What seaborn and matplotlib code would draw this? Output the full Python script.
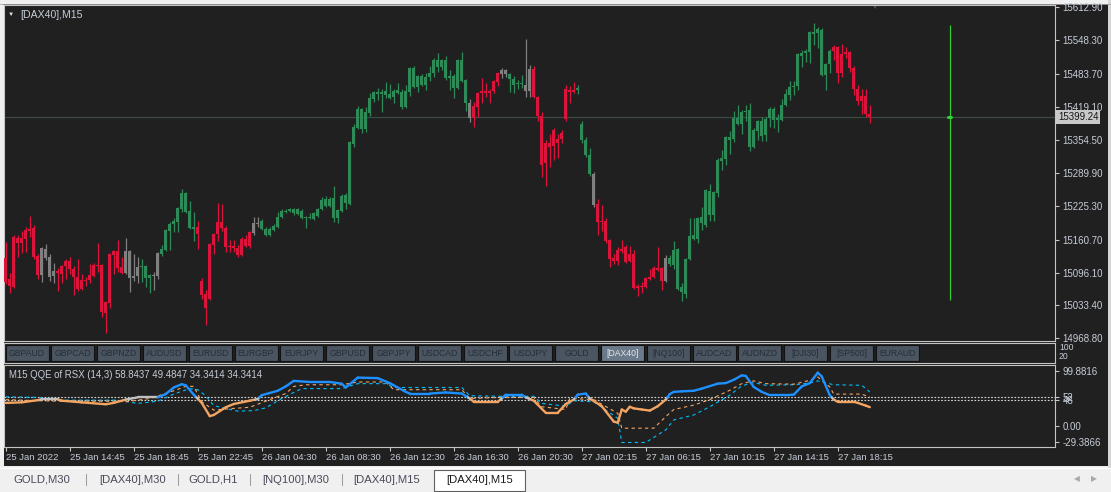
import numpy as np
import pandas as pd
import matplotlib
matplotlib.use("Agg")
import matplotlib.pyplot as plt
from matplotlib.collections import LineCollection
from matplotlib.patches import Rectangle
import seaborn as sns

W, H = 1111, 492

# --- DAX40 M15 candles (price) ---
opens = [15125, 15084, 15068, 15164, 15154, 15162, 15177, 15183, 15129, 15092,
         15142, 15127, 15090, 15100, 15094, 15109, 15119, 15103, 15088, 15065,
         15082, 15082, 15090, 15111, 15111, 15018, 15037, 15131, 15139, 15107,
         15096, 15139, 15086, 15090, 15107, 15109, 15086, 15092, 15090, 15133,
         15140, 15177, 15191, 15195, 15220, 15251, 15216, 15181, 15185, 15080,
         15055, 15045, 15150, 15172, 15195, 15183, 15146, 15148, 15144, 15131,
         15162, 15148, 15174, 15193, 15197, 15181, 15170, 15179, 15185, 15205,
         15214, 15216, 15213, 15220, 15203, 15203, 15203, 15201, 15207, 15220,
         15226, 15240, 15203, 15203, 15216, 15232, 15230, 15347, 15378, 15415,
         15376, 15407, 15434, 15444, 15448, 15442, 15444, 15438, 15446, 15448,
         15419, 15448, 15495, 15458, 15479, 15462, 15477, 15485, 15510, 15497,
         15510, 15475, 15479, 15456, 15510, 15471, 15427, 15397, 15419, 15446,
         15450, 15446, 15450, 15467, 15483, 15491, 15483, 15473, 15464, 15465,
         15462, 15450, 15493, 15438, 15401, 15310, 15349, 15343, 15357, 15357,
         15395, 15452, 15448, 15452, 15386, 15355, 15325, 15288, 15230, 15195,
         15197, 15160, 15125, 15119, 15139, 15146, 15119, 15133, 15067, 15070,
         15068, 15084, 15088, 15105, 15105, 15080, 15113, 15111, 15142, 15059,
         15055, 15123, 15162, 15162, 15193, 15189, 15255, 15209, 15251, 15314,
         15318, 15361, 15357, 15397, 15386, 15409, 15413, 15341, 15372, 15392,
         15364, 15397, 15415, 15393, 15393, 15423, 15442, 15458, 15460, 15518,
         15524, 15526, 15565, 15563, 15569, 15481, 15502, 15528, 15536, 15485,
         15522, 15526, 15495, 15454, 15430, 15440, 15405]
highs = [15156, 15096, 15170, 15170, 15177, 15185, 15207, 15189, 15133, 15146,
         15152, 15133, 15115, 15105, 15111, 15123, 15127, 15109, 15123, 15094,
         15088, 15113, 15115, 15154, 15113, 15041, 15135, 15140, 15160, 15127,
         15164, 15140, 15133, 15127, 15123, 15111, 15094, 15098, 15137, 15150,
         15181, 15195, 15203, 15224, 15259, 15253, 15236, 15214, 15197, 15086,
         15063, 15154, 15174, 15232, 15230, 15187, 15160, 15160, 15150, 15166,
         15170, 15177, 15205, 15205, 15201, 15185, 15185, 15191, 15214, 15220,
         15220, 15222, 15222, 15222, 15220, 15207, 15213, 15214, 15222, 15244,
         15246, 15244, 15265, 15220, 15249, 15251, 15353, 15386, 15421, 15417,
         15419, 15446, 15450, 15456, 15454, 15467, 15464, 15454, 15465, 15454,
         15462, 15497, 15499, 15481, 15483, 15485, 15499, 15514, 15524, 15512,
         15518, 15491, 15483, 15512, 15526, 15473, 15434, 15429, 15448, 15475,
         15465, 15454, 15471, 15487, 15495, 15493, 15485, 15479, 15471, 15481,
         15551, 15500, 15499, 15440, 15409, 15355, 15366, 15378, 15366, 15374,
         15462, 15460, 15467, 15462, 15392, 15361, 15339, 15292, 15240, 15228,
         15203, 15162, 15133, 15146, 15160, 15150, 15148, 15140, 15074, 15078,
         15088, 15103, 15109, 15146, 15107, 15131, 15131, 15158, 15144, 15076,
         15125, 15203, 15203, 15205, 15224, 15259, 15269, 15255, 15320, 15335,
         15362, 15372, 15411, 15423, 15413, 15423, 15427, 15378, 15393, 15399,
         15399, 15419, 15419, 15405, 15434, 15454, 15469, 15469, 15524, 15530,
         15532, 15567, 15582, 15574, 15573, 15504, 15532, 15539, 15537, 15541,
         15536, 15528, 15499, 15462, 15454, 15454, 15423]
lows = [15074, 15057, 15067, 15127, 15135, 15137, 15166, 15123, 15084, 15078,
        15121, 15080, 15076, 15061, 15076, 15084, 15094, 15053, 15061, 15063,
        15070, 15076, 15088, 15098, 15010, 14979, 15028, 15094, 15098, 15094,
        15094, 15059, 15080, 15076, 15078, 15068, 15057, 15063, 15084, 15129,
        15139, 15140, 15176, 15176, 15214, 15213, 15181, 15158, 15142, 15045,
        14995, 15043, 15133, 15158, 15177, 15137, 15137, 15137, 15127, 15129,
        15146, 15144, 15170, 15185, 15179, 15168, 15168, 15177, 15183, 15203,
        15213, 15214, 15209, 15209, 15201, 15183, 15201, 15199, 15205, 15218,
        15224, 15224, 15195, 15193, 15214, 15220, 15228, 15341, 15376, 15368,
        15370, 15401, 15429, 15432, 15409, 15436, 15434, 15427, 15444, 15415,
        15417, 15440, 15456, 15448, 15460, 15452, 15469, 15477, 15487, 15491,
        15471, 15452, 15436, 15454, 15467, 15411, 15390, 15380, 15399, 15427,
        15438, 15427, 15446, 15460, 15475, 15477, 15448, 15446, 15454, 15456,
        15438, 15438, 15436, 15392, 15283, 15265, 15302, 15316, 15320, 15349,
        15392, 15427, 15446, 15444, 15349, 15322, 15285, 15224, 15170, 15177,
        15154, 15107, 15113, 15111, 15135, 15115, 15117, 15065, 15051, 15057,
        15067, 15082, 15086, 15100, 15063, 15078, 15109, 15103, 15063, 15041,
        15047, 15121, 15160, 15154, 15179, 15185, 15197, 15197, 15244, 15296,
        15306, 15327, 15351, 15384, 15366, 15392, 15333, 15339, 15355, 15353,
        15353, 15380, 15378, 15370, 15392, 15421, 15432, 15442, 15452, 15497,
        15506, 15504, 15539, 15534, 15479, 15452, 15485, 15510, 15465, 15477,
        15514, 15487, 15442, 15423, 15405, 15399, 15388]
closes = [15078, 15070, 15166, 15154, 15164, 15179, 15181, 15127, 15092, 15144,
          15125, 15088, 15100, 15096, 15109, 15119, 15103, 15088, 15065, 15082,
          15080, 15092, 15111, 15109, 15020, 15039, 15133, 15139, 15105, 15096,
          15139, 15086, 15090, 15107, 15109, 15086, 15092, 15090, 15135, 15142,
          15179, 15191, 15197, 15222, 15251, 15214, 15183, 15185, 15172, 15053,
          15028, 15152, 15172, 15195, 15183, 15146, 15148, 15144, 15131, 15162,
          15148, 15176, 15193, 15191, 15181, 15170, 15181, 15187, 15205, 15216,
          15216, 15220, 15220, 15211, 15216, 15205, 15205, 15213, 15220, 15238,
          15240, 15226, 15242, 15218, 15246, 15248, 15351, 15380, 15415, 15376,
          15409, 15436, 15448, 15448, 15444, 15450, 15436, 15450, 15452, 15419,
          15450, 15495, 15458, 15479, 15462, 15477, 15485, 15510, 15497, 15510,
          15475, 15479, 15456, 15510, 15469, 15427, 15397, 15421, 15446, 15450,
          15446, 15450, 15469, 15485, 15491, 15483, 15473, 15462, 15465, 15464,
          15450, 15493, 15438, 15401, 15306, 15349, 15341, 15374, 15349, 15368,
          15454, 15448, 15452, 15456, 15355, 15325, 15288, 15228, 15195, 15197,
          15158, 15123, 15119, 15140, 15142, 15117, 15133, 15067, 15070, 15068,
          15086, 15088, 15105, 15102, 15080, 15125, 15125, 15140, 15065, 15068,
          15123, 15168, 15170, 15203, 15205, 15257, 15209, 15253, 15316, 15320,
          15361, 15355, 15397, 15386, 15409, 15411, 15341, 15374, 15392, 15362,
          15395, 15415, 15393, 15397, 15423, 15444, 15458, 15460, 15522, 15524,
          15528, 15565, 15561, 15571, 15481, 15502, 15528, 15536, 15485, 15522,
          15526, 15495, 15454, 15430, 15440, 15405, 15399.24]
# signal colour of each candle, run-length coded: r = down, g = up, s = neutral
signal_runs = [("r", 9), ("s", 4), ("r", 17), ("s", 4), ("g", 3), ("s", 2),
               ("g", 9), ("r", 14), ("s", 2), ("g", 52), ("s", 1), ("r", 7),
               ("s", 2), ("g", 4), ("s", 2), ("r", 11), ("g", 4), ("s", 1),
               ("r", 17), ("s", 1), ("g", 41), ("r", 10)]

price_ticks = [15612.90, 15548.30, 15483.70, 15419.10, 15354.50, 15289.90,
               15225.30, 15160.70, 15096.10, 15033.40, 14968.80]
bid_price = 15399.24

# --- QQE of RSX (14,3) sub window ---
qqe_bars = [0, 4, 8, 9, 13, 14, 19, 25, 27, 30, 33, 38, 40, 42, 44, 45, 47, 49, 51, 52,
            55, 57, 61, 63, 64, 66, 68, 70, 72, 76, 81, 84, 85, 88, 93, 96, 100, 101, 106, 110,
            114, 116, 117, 123, 124, 125, 129, 130, 132, 135, 138, 140, 142, 143, 145, 146, 149, 152, 153, 154,
            155, 156, 157, 159, 161, 163, 165, 166, 167, 169, 172, 174, 178, 180, 182, 184, 185, 187, 189, 191,
            195, 197, 199, 201, 203, 204, 206, 207, 208, 212, 213, 215, 216]
qqe_vals = [42, 43, 47, 48.5, 48.5, 46, 43, 39.5, 42, 48, 52, 52, 58, 70, 76, 74, 57, 42, 18, 20,
            34, 40, 46, 49, 56, 60, 64, 72, 82, 80, 80, 77, 70, 88, 87, 78, 62, 59, 59, 61,
            59, 50, 44, 44, 50, 57, 57, 52, 46, 24, 24, 40, 48, 57, 59, 50, 36, 8, 6, 30,
            26, 35, 32, 30, 28, 36, 48, 58, 62, 63, 64, 68, 77, 78, 84, 92, 91, 71, 62, 56,
            56, 57, 72, 78, 97, 90, 56, 48, 44, 44, 42, 37, 34.34]
fast_bars = [0, 8, 14, 28, 30, 36, 42, 45, 47, 49, 52, 57, 61, 66, 70, 72, 75, 84, 88, 95,
             97, 114, 116, 124, 132, 134, 140, 141, 147, 153, 154, 162, 165, 167, 172, 176, 181, 184, 187, 190,
             197, 201, 203, 206, 207, 214, 216]
fast_vals = [48, 46, 45, 45, 44, 50, 64, 72, 72, 44, 29, 32, 34, 48, 59, 72, 75, 75, 80, 80,
             66, 66, 50, 52, 52, 35, 30, 50, 48, 23, -4, -4, 17, 30, 38, 48, 65, 77, 82, 77,
             76, 83, 89, 71, 58, 58, 52]
slow_bars = [0, 8, 14, 28, 33, 38, 42, 46, 48, 50, 52, 58, 62, 65, 69, 72, 74, 84, 88, 95,
             97, 114, 116, 124, 132, 134, 140, 142, 147, 153, 154, 160, 165, 167, 172, 176, 181, 184, 187, 190,
             197, 201, 203, 207, 214, 216]
slow_vals = [53, 52, 47, 47, 41, 45, 58, 68, 66, 55, 37, 27, 28, 33, 50, 61, 68, 68, 77, 77,
             70, 70, 55, 54, 54, 41, 36, 46, 44, 14, -30, -30, -7, 11, 20, 35, 56, 73, 79, 74,
             75, 78, 82, 75, 74, 62]
qqe_levels = [52, 48]
qqe_ticks = [99.8816, 52, 48, 0, -29.3866]
qqe_tick_labels = ["99.8816", "52", "48", "0.00", "-29.3866"]

time_tick_bars = [0, 16, 32, 48, 64, 80, 96, 112, 128, 144, 160, 176, 192, 208]
time_tick_labels = ["25 Jan 2022", "25 Jan 14:45", "25 Jan 18:45", "25 Jan 22:45",
                    "26 Jan 04:30", "26 Jan 08:30", "26 Jan 12:30", "26 Jan 16:30",
                    "26 Jan 20:30", "27 Jan 02:15", "27 Jan 06:15", "27 Jan 10:15",
                    "27 Jan 14:15", "27 Jan 18:15"]

symbol_buttons = ["GBPAUD", "GBPCAD", "GBPNZD", "AUDUSD", "EURUSD", "EURGBP", "EURJPY",
                  "GBPUSD", "GBPJPY", "USDCAD", "USDCHF", "USDJPY", "GOLD", "[DAX40]",
                  "[NQ100]", "AUDCAD", "AUDNZD", "[DJI30]", "[SP500]", "EURAUD"]
active_button = "[DAX40]"
tabs = ["GOLD,M30", "[DAX40],M30", "GOLD,H1", "[NQ100],M30", "[DAX40],M15", "[DAX40],M15"]

# --- colours ---
BG = "#202020"
FRAME = "#c4c4c4"
TXT = "#c6cdd8"
RED, GREEN, GREY = "#dc143c", "#2e8b57", "#808080"
Q_BLUE, Q_ORANGE, Q_SILVER = "#1e90ff", "#f4a460", "#c0c0c0"
SLOW_BLUE = "#00bfff"

sns.set_theme(style="dark")
plt.rcParams["font.family"] = ["Liberation Sans", "DejaVu Sans"]


def px_rect(x0, y0, x1, y1):
    return [x0 / W, 1 - y1 / H, (x1 - x0) / W, (y1 - y0) / H]


def style_frame(a):
    a.set_facecolor("none")
    for s in a.spines.values():
        s.set_visible(True)
        s.set_color(FRAME)
        s.set_linewidth(0.8)
    a.grid(False)


fig = plt.figure(figsize=(W / 100, H / 100), dpi=100, facecolor="#f0f0f0")

# window chrome drawn in pixel space
bg = fig.add_axes([0, 0, 1, 1])
bg.set_zorder(-1)
bg.set_xlim(0, W)
bg.set_ylim(H, 0)
bg.axis("off")
bg.add_patch(Rectangle((4, 4), 1104, 462, fc=BG, ec="none"))
bg.add_patch(Rectangle((1108, 0), 3, 468, fc="#d6d6d6", ec="none"))
bg.plot([0, W], [467.5, 467.5], color="#ffffff", lw=1)
bg.plot([0, W], [3.5, 3.5], color="#a0a0a0", lw=0.6)
bg.add_patch(Rectangle((434, 469.5), 91, 21, fc="#ffffff", ec="#606060", lw=0.8))
tab_centres = [42, 133, 213, 296, 387, 480]
for i, (name, cx) in enumerate(zip(tabs, tab_centres)):
    col = "#1a1a1a" if i == len(tabs) - 1 else "#4a4a5a"
    bg.text(cx, 480, name, ha="center", va="center", fontsize=8.1, color=col)
for sx in [87, 179, 250, 342]:
    bg.text(sx, 480, "|", ha="center", va="center", fontsize=8.5, color="#9a9a9a")
bg.text(1077, 480, "◀", ha="center", va="center", fontsize=5.5, color="#a8a8a8")
bg.text(1094, 480, "▶", ha="center", va="center", fontsize=5.5, color="#a8a8a8")
bg.text(11, 14, "▼", ha="center", va="center", fontsize=4.5, color="#e0e0e0")
bg.text(20, 14.5, "[DAX40],M15", ha="left", va="center", fontsize=7.6, color=TXT)
bg.text(875, 7, "▼", ha="center", va="center", fontsize=4.5, color="#505050")
bg.text(9, 375.5, "M15 QQE of RSX (14,3) 58.8437 49.4847 34.3414 34.3414",
        ha="left", va="center", fontsize=6.9, color=TXT)
bg.text(1059, 347.5, "100", ha="left", va="center", fontsize=6.2, color=TXT)
bg.text(1059, 356.5, "20", ha="left", va="center", fontsize=6.2, color=TXT)

# --- main price chart ---
ax = fig.add_axes(px_rect(4, 5, 1055, 341))
style_frame(ax)
sig_codes = [c for c, n in signal_runs for _ in range(n)]
col_map = {"r": RED, "g": GREEN, "s": GREY}
candles = pd.DataFrame({"open": opens, "high": highs, "low": lows, "close": closes,
                        "signal": sig_codes})
candles["bar"] = np.arange(len(candles))
candles["color"] = candles["signal"].map(col_map)
body_lo = candles[["open", "close"]].min(axis=1)
body_h = (candles["close"] - candles["open"]).abs().clip(lower=1.9)

ax.axhline(bid_price, color="#3b4a43", lw=0.9, zorder=1)
ax.vlines(candles["bar"], candles["low"], candles["high"], colors=candles["color"],
          lw=0.9, zorder=2)
ax.bar(candles["bar"], body_h, bottom=body_lo, width=0.75, color=candles["color"],
       linewidth=0, zorder=3)

# vertical marker line to the right of the last bar
ax.vlines(236, 15043, 15578, color="#32cd32", lw=0.9, zorder=2)
ax.plot([235.6, 236.4], [bid_price, bid_price], color="#32cd32", lw=2.2, zorder=3)

ax.set_xlim(-0.43, 262.3)
ax.set_ylim(14963.4, 15617.3)
ax.set_xticks([])
ax.yaxis.tick_right()
ax.set_yticks(price_ticks)
ax.set_yticklabels([f"{v:.2f}" for v in price_ticks])
ax.tick_params(axis="y", which="both", right=True, length=3, width=0.8, color=FRAME,
               pad=2.5, labelsize=7, labelcolor=TXT)
ax.annotate(f"{bid_price:.2f}", xy=(1, bid_price), xycoords=ax.get_yaxis_transform(),
            xytext=(2.3, 0), textcoords="offset points", ha="left", va="center",
            fontsize=7, color="#151515",
            bbox=dict(boxstyle="square,pad=0.18", fc="#c8c8c8", ec="none"))

# --- button strip sub window ---
axb = fig.add_axes(px_rect(4, 343, 1055, 363))
style_frame(axb)
axb.set_xlim(4, 1055)
axb.set_ylim(363, 343)
axb.set_xticks([])
axb.set_yticks([])
for i, name in enumerate(symbol_buttons):
    x0 = 5.5 + 45.8 * i
    active = name == active_button
    axb.add_patch(Rectangle((x0, 345), 43, 16, fc="#6a7a8a" if active else "#4a5561",
                            ec="#121212", lw=0.8))
    axb.text(x0 + 21.5, 353.3, name, ha="center", va="center", fontsize=6.2,
             color="#e6e6e6" if active else "#252d37")

# --- QQE oscillator ---
ax2 = fig.add_axes(px_rect(4, 365, 1055, 447))
style_frame(ax2)
for lvl in qqe_levels:
    ax2.axhline(lvl, color="#d8d8d8", lw=0.8, ls=(0, (1.5, 1.5)), zorder=1)

sns.lineplot(x=slow_bars, y=slow_vals, ax=ax2, color=SLOW_BLUE, lw=0.8,
             linestyle=(0, (3, 3)), sort=False, errorbar=None, zorder=2)
sns.lineplot(x=fast_bars, y=fast_vals, ax=ax2, color=Q_ORANGE, lw=0.8,
             linestyle=(0, (3, 3)), sort=False, errorbar=None, zorder=2)

segs, seg_cols = [], []
for x0, y0, x1, y1 in zip(qqe_bars[:-1], qqe_vals[:-1], qqe_bars[1:], qqe_vals[1:]):
    cuts = [0.0, 1.0]
    for lvl in qqe_levels:
        if (y0 - lvl) * (y1 - lvl) < 0:
            cuts.append((lvl - y0) / (y1 - y0))
    cuts.sort()
    for a, b in zip(cuts[:-1], cuts[1:]):
        pa = (x0 + a * (x1 - x0), y0 + a * (y1 - y0))
        pb = (x0 + b * (x1 - x0), y0 + b * (y1 - y0))
        mid = (pa[1] + pb[1]) / 2
        seg_cols.append(Q_BLUE if mid > 52 else Q_ORANGE if mid < 48 else Q_SILVER)
        segs.append([pa, pb])
ax2.add_collection(LineCollection(segs, colors=seg_cols, linewidths=1.7,
                                  capstyle="round", zorder=3))

ax2.set_xlim(-0.43, 262.3)
ax2.set_ylim(-38.2, 110.9)
ax2.set_xlabel("")
ax2.set_ylabel("")
ax2.yaxis.tick_right()
ax2.set_yticks(qqe_ticks)
ax2.set_yticklabels(qqe_tick_labels)
ax2.set_xticks(time_tick_bars)
ax2.set_xticklabels(time_tick_labels, ha="left")
ax2.tick_params(axis="y", right=True, length=3, width=0.8, color=FRAME, pad=2.5,
                labelsize=7, labelcolor=TXT)
ax2.tick_params(axis="x", bottom=True, length=3, width=0.8, color=FRAME, pad=1.5,
                labelsize=6.8, labelcolor=TXT)

fig.savefig("out.png", dpi=100, facecolor=fig.get_facecolor())
